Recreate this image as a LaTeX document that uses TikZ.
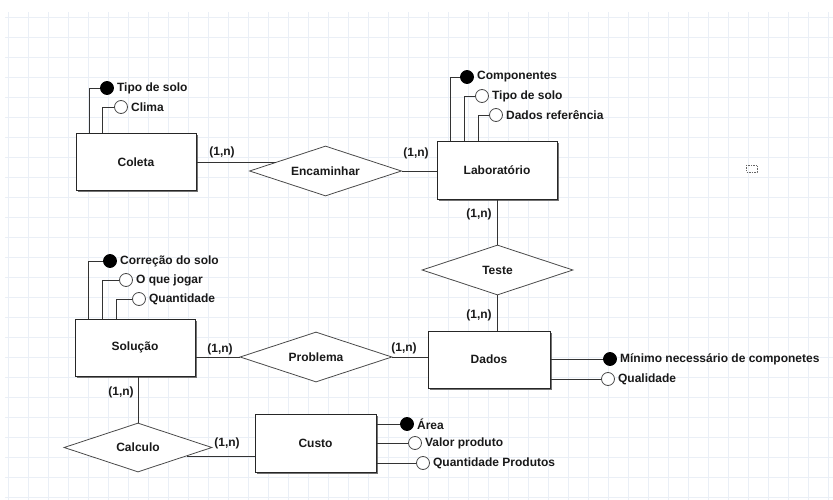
\documentclass[tikz,border=0pt]{standalone}
\usepackage{fontspec}
\setmainfont{Liberation Sans}
\usetikzlibrary{shapes.geometric,shadows}

\definecolor{gridline}{HTML}{EAEFF6}
\definecolor{linegray}{HTML}{333333}
\definecolor{diagray}{HTML}{4A4A4A}

\tikzset{
  txt/.style={font=\fontsize{12}{14}\selectfont\bfseries, text=black!90},
  entity/.style={txt, rectangle, draw=black!85, fill=white, line width=1pt,
    minimum width=120pt, minimum height=57pt,
    drop shadow={shadow xshift=1.5pt, shadow yshift=-1.5pt, fill=black!55, opacity=1}},
  relation/.style={txt, diamond, aspect=3, draw=diagray, fill=white, line width=0.8pt,
    minimum width=151pt, minimum height=50pt, inner sep=0pt},
  conn/.style={draw=linegray, line width=0.8pt},
  keyattr/.style={circle, draw=black, fill=black, minimum size=13pt, inner sep=0pt, line width=0.8pt},
  attr/.style={circle, draw=diagray, fill=white, minimum size=13pt, inner sep=0pt, line width=0.8pt},
  attrlbl/.style={txt, inner sep=3pt},
  card/.style={txt, inner sep=0pt},
}

\begin{document}
\begin{tikzpicture}[x=1pt, y=-1pt]
    \useasboundingbox (0,0) rectangle (833,500);
    % grade de fundo
    \foreach \gx in {8,28,...,833} {
        \draw[gridline, line width=0.8pt] (\gx,12) -- (\gx,500);
    }
    \foreach \gy in {17,37,...,500} {
        \draw[gridline, line width=0.8pt] (5,\gy) -- (833,\gy);
    }

    % entidades
    \node[entity] (coleta) at (136,162.5) {Coleta};
    \node[entity] (lab) at (497,170.5) {Laboratório};
    \node[entity] (solucao) at (135,347.5) {Solução};
    \node[entity, minimum width=122pt] (dados) at (489,359.5) {Dados};
    \node[entity, minimum width=121pt, minimum height=58pt] (custo) at (315.5,443) {Custo};

    % relacionamentos
    \node[relation, minimum width=152pt] (encaminhar) at (325.5,171) {Encaminhar};
    \node[relation] (teste) at (497.5,270) {Teste};
    \node[relation, minimum width=152pt] (problema) at (316,357) {Problema};
    \node[relation, minimum width=148pt, minimum height=49pt] (calculo) at (138,447.5) {Calculo};

    % ligacoes
    \draw[conn] (coleta.east) -- (coleta.east -| encaminhar.170);
    \draw[conn] (encaminhar.east) -- (encaminhar.east -| lab.west);
    \draw[conn] (lab.south -| teste.north) -- (teste.north);
    \draw[conn] (teste.south) -- (teste.south |- dados.north);
    \draw[conn] (problema.west -| solucao.east) -- (problema.west);
    \draw[conn] (problema.east) -- (problema.east -| dados.west);
    \draw[conn] (solucao.south -| calculo.north) -- (calculo.north);
    \draw[conn] (calculo.-10) -- (calculo.-10 -| custo.west);

    % cardinalidades
    \node[card] (c1) at (222,152) {(1,n)};
    \node[card] (c2) at (416,153) {(1,n)};
    \node[card] (c3) at (479,214) {(1,n)};
    \node[card] (c4) at (479,315) {(1,n)};
    \node[card] (c5) at (220,349) {(1,n)};
    \node[card] (c6) at (404,348) {(1,n)};
    \node[card] (c7) at (121,392) {(1,n)};
    \node[card] (c8) at (227,443) {(1,n)};

    % atributos da Coleta
    \node[keyattr, label={[attrlbl]right:Tipo de solo}] (co1) at (107,88) {};
    \node[attr, label={[attrlbl]right:Clima}] (co2) at (121,107) {};
    \draw[conn] (co1.west) -| ([xshift=14pt]coleta.north west);
    \draw[conn] (co2.west) -| ([xshift=27pt]coleta.north west);

    % atributos do Laboratório
    \node[keyattr, label={[attrlbl]right:Componentes}] (la1) at (467,77) {};
    \node[attr, label={[attrlbl]right:Tipo de solo}] (la2) at (482,96) {};
    \node[attr, label={[attrlbl]right:Dados referência}] (la3) at (496,115) {};
    \draw[conn] (la1.west) -| ([xshift=14pt]lab.north west);
    \draw[conn] (la2.west) -| ([xshift=28pt]lab.north west);
    \draw[conn] (la3.west) -| ([xshift=42pt]lab.north west);

    % atributos da Solução
    \node[keyattr, label={[attrlbl]right:Correção do solo}] (so1) at (110,261) {};
    \node[attr, label={[attrlbl]right:O que jogar}] (so2) at (126,280) {};
    \node[attr, label={[attrlbl]right:Quantidade}] (so3) at (139,299) {};
    \draw[conn] (so1.west) -| ([xshift=14pt]solucao.north west);
    \draw[conn] (so2.west) -| ([xshift=28pt]solucao.north west);
    \draw[conn] (so3.west) -| ([xshift=42pt]solucao.north west);

    % atributos dos Dados
    \node[keyattr, label={[attrlbl]right:Mínimo necessário de componetes}] (da1) at (610,359) {};
    \node[attr, label={[attrlbl]right:Qualidade}] (da2) at (608,379) {};
    \draw[conn] (da1.west) -- (da1.west -| dados.east);
    \draw[conn] (da2.west) -- (da2.west -| dados.east);

    % atributos do Custo
    \node[keyattr, label={[attrlbl]right:Área}] (cu1) at (407,424) {};
    \node[attr, label={[attrlbl]right:Valor produto}] (cu2) at (415,443) {};
    \node[attr, label={[attrlbl]right:Quantidade Produtos}] (cu3) at (423,463) {};
    \draw[conn] (cu1.west) -- (cu1.west -| custo.east);
    \draw[conn] (cu2.west) -- (cu2.west -| custo.east);
    \draw[conn] (cu3.west) -- (cu3.west -| custo.east);

    % marca tracejada
    \draw[black!60, line width=0.8pt, dash pattern=on 1.5pt off 1pt] (746,165) rectangle (757,172);
\end{tikzpicture}
\end{document}
